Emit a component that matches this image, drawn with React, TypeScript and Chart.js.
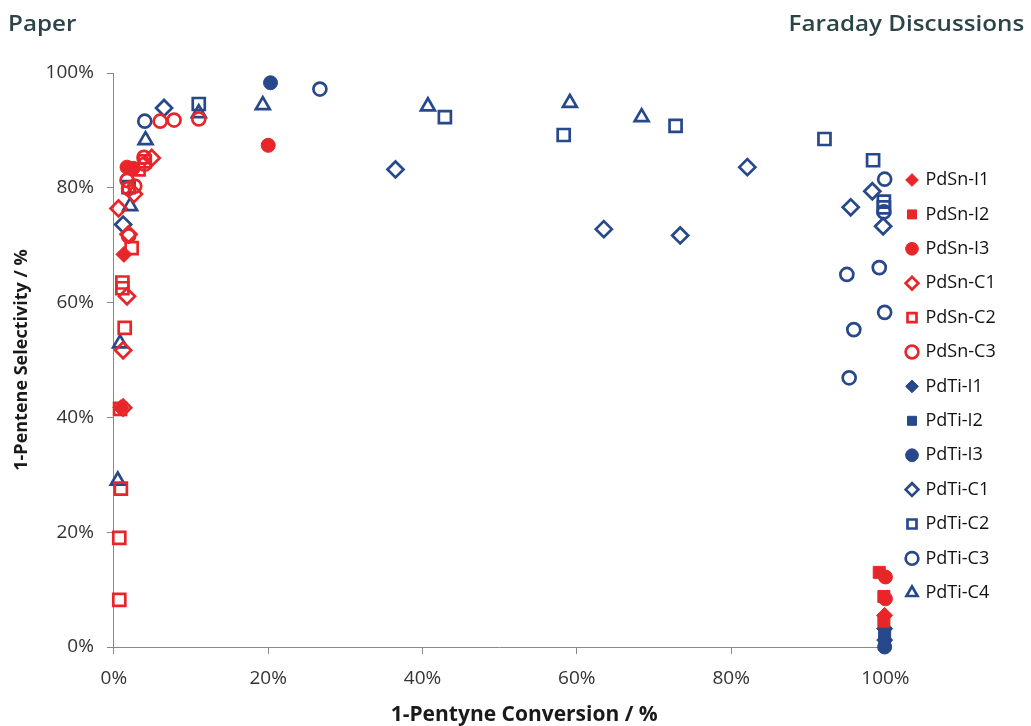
import React, { useEffect, useRef } from "react";
import { Chart, registerables } from "chart.js";

Chart.register(...registerables);

const RED = "#e8262a";
const BLUE = "#27488a";

const xTicks = [0, 20, 40, 60, 80, 100];
const yTicks = [0, 20, 40, 60, 80, 100];

// [conversion %, selectivity %]
const PdSn_I1: [number, number][] = [[1.3, 68.4], [0.9, 41.7], [99.9, 5.5]];
const PdSn_I2: [number, number][] = [[99.2, 13.0], [99.8, 8.8], [99.8, 4.5]];
const PdSn_I3: [number, number][] = [[1.7, 83.6], [2.5, 83.4], [20.0, 87.4], [100, 12.2], [100, 8.4]];
const PdSn_C1: [number, number][] = [[0.6, 76.4], [1.9, 71.9], [2.6, 78.9], [4.9, 85.2], [1.7, 61.1], [1.2, 51.7], [1.2, 41.7]];
const PdSn_C2: [number, number][] = [[0.7, 8.2], [0.7, 19.0], [0.9, 27.6], [0.8, 41.5], [1.4, 55.6], [1.1, 62.5], [1.1, 63.5], [2.3, 69.5], [3.2, 83.2], [4.0, 84.6]];
const PdSn_C3: [number, number][] = [[1.7, 81.3], [1.9, 79.9], [2.7, 80.3], [1.9, 71.6], [3.9, 85.3], [4.0, 84.1], [6.0, 91.6], [7.8, 91.8], [11.0, 92.0]];
const PdTi_I1: [number, number][] = [[99.9, 3.2], [99.9, 1.2]];
const PdTi_I2: [number, number][] = [[99.9, 2.4], [99.9, 0.6]];
const PdTi_I3: [number, number][] = [[20.3, 98.3], [99.9, 0.0]];
const PdTi_C1: [number, number][] = [[1.2, 73.6], [6.5, 93.9], [36.5, 83.2], [63.5, 72.8], [73.4, 71.7], [82.1, 83.6], [95.5, 76.6], [98.3, 79.4], [99.7, 73.3]];
const PdTi_C2: [number, number][] = [[1.9, 80.1], [11.0, 94.6], [42.9, 92.3], [58.3, 89.2], [72.8, 90.8], [92.1, 88.5], [98.4, 84.8], [99.8, 77.6], [99.8, 76.6]];
const PdTi_C3: [number, number][] = [[4.0, 91.6], [26.7, 97.2], [99.9, 81.5], [99.8, 75.8], [99.2, 66.1], [95.0, 64.9], [99.9, 58.3], [95.9, 55.3], [95.3, 46.9]];
const PdTi_C4: [number, number][] = [[0.5, 29.0], [0.8, 52.9], [2.1, 76.8], [4.1, 88.3], [11.0, 93.0], [19.3, 94.4], [40.7, 94.2], [59.1, 94.8], [68.4, 92.3]];

const radiusFor: Record<string, number> = { circle: 6.5, rect: 8.5, rectRot: 8, triangle: 8 };

function ds(label: string, pts: [number, number][], color: string, style: string, filled: boolean) {
  return {
    label,
    data: pts.map(([x, y]) => ({ x, y })),
    pointStyle: style,
    pointRadius: filled && style === "circle" ? 7 : radiusFor[style],
    pointBackgroundColor: filled ? color : "rgba(0,0,0,0)",
    backgroundColor: filled ? color : "rgba(0,0,0,0)",
    pointBorderColor: color,
    borderColor: color,
    pointBorderWidth: filled ? 1 : 2.7,
    borderWidth: filled ? 1 : 2.7,
    showLine: false,
    clip: false,
  };
}

const LEGEND_PAD = 16.4;
const LEGEND_BOX = 9;

const legendPlacer = {
  id: "legendPlacer",
  afterLayout(chart: any) {
    const lg = chart.legend;
    if (!lg) return;
    const left = 912 - LEGEND_BOX / 2 - LEGEND_PAD;
    const w = lg.right - lg.left;
    lg.left = left;
    lg.right = left + w;
    lg.top = 180 - LEGEND_PAD - 9;
  },
};

const NB = "\u00A0";

export default function App() {
  const ref = useRef<HTMLCanvasElement | null>(null);
  useEffect(() => {
    document.body.style.margin = "0";
    const ctx = ref.current!;
    const tickFont = { family: "'Open Sans', sans-serif", size: 19 };
    const yTitleFont = { family: "'Open Sans', sans-serif", size: 18, weight: "bold" as const };
    const xTitleFont = { family: "'Open Sans', sans-serif", size: 21, weight: "bold" as const };
    const chart = new Chart(ctx, {
      type: "scatter",
      plugins: [legendPlacer],
      data: {
        datasets: [
          ds("PdSn-I1", PdSn_I1, RED, "rectRot", true),
          ds("PdSn-I2", PdSn_I2, RED, "rect", true),
          ds("PdSn-I3", PdSn_I3, RED, "circle", true),
          ds("PdSn-C1", PdSn_C1, RED, "rectRot", false),
          ds("PdSn-C2", PdSn_C2, RED, "rect", false),
          ds("PdSn-C3", PdSn_C3, RED, "circle", false),
          ds("PdTi-I1", PdTi_I1, BLUE, "rectRot", true),
          ds("PdTi-I2", PdTi_I2, BLUE, "rect", true),
          ds("PdTi-I3", PdTi_I3, BLUE, "circle", true),
          ds("PdTi-C1", PdTi_C1, BLUE, "rectRot", false),
          ds("PdTi-C2", PdTi_C2, BLUE, "rect", false),
          ds("PdTi-C3", PdTi_C3, BLUE, "circle", false),
          ds("PdTi-C4", PdTi_C4, BLUE, "triangle", false),
        ] as any,
      },
      options: {
        animation: false,
        responsive: true,
        maintainAspectRatio: false,
        layout: { padding: { top: 73, left: 11, right: 31, bottom: -2 } },
        plugins: {
          tooltip: { enabled: false },
          legend: {
            position: "right",
            align: "start",
            labels: {
              usePointStyle: true,
              boxWidth: LEGEND_BOX,
              boxHeight: LEGEND_BOX,
              padding: LEGEND_PAD,
              color: "#111",
              font: { family: "'Open Sans', sans-serif", size: 18 },
            },
          },
        },
        scales: {
          x: {
            type: "linear",
            min: 0,
            max: 100,
            afterBuildTicks: (s: any) => { s.ticks = xTicks.map((v) => ({ value: v })); },
            ticks: { callback: (v: any) => v + "%", color: "#333", font: tickFont, padding: 13 },
            grid: { display: true, drawOnChartArea: false, drawTicks: true, tickLength: 7, color: "#888" },
            border: { color: "#888" },
            title: { display: true, text: NB.repeat(9) + "1-Pentyne Conversion / %", color: "#1a1a1a", font: xTitleFont, padding: { top: 0, bottom: 0 } },
          },
          y: {
            type: "linear",
            min: 0,
            max: 100,
            afterBuildTicks: (s: any) => { s.ticks = yTicks.map((v) => ({ value: v })); },
            ticks: { callback: (v: any) => v + "%", color: "#333", font: tickFont, padding: 13 },
            grid: { display: true, drawOnChartArea: false, drawTicks: true, tickLength: 7, color: "#888" },
            border: { color: "#888" },
            title: { display: true, text: "1-Pentene Selectivity / %", color: "#1a1a1a", font: yTitleFont, padding: { top: 0, bottom: 0 } },
          },
        },
      },
    });
    return () => chart.destroy();
  }, []);

  const headStyle: React.CSSProperties = {
    position: "absolute",
    top: 7,
    fontFamily: "'Open Sans', sans-serif",
    fontWeight: 600,
    fontSize: 22,
    lineHeight: "30px",
    color: "#2c4448",
    whiteSpace: "nowrap",
  };

  return (
    <div style={{ position: "relative", width: 1031, height: 726, background: "#fff" }}>
      <div style={{ position: "absolute", left: 0, top: 0, width: 1031, height: 726 }}>
        <canvas ref={ref} />
      </div>
      <div style={{ ...headStyle, left: 8, transform: "scaleX(1.1)", transformOrigin: "left center" }}>Paper</div>
      <div style={{ ...headStyle, right: 7, transform: "scaleX(1.1)", transformOrigin: "right center" }}>Faraday Discussions</div>
    </div>
  );
}
